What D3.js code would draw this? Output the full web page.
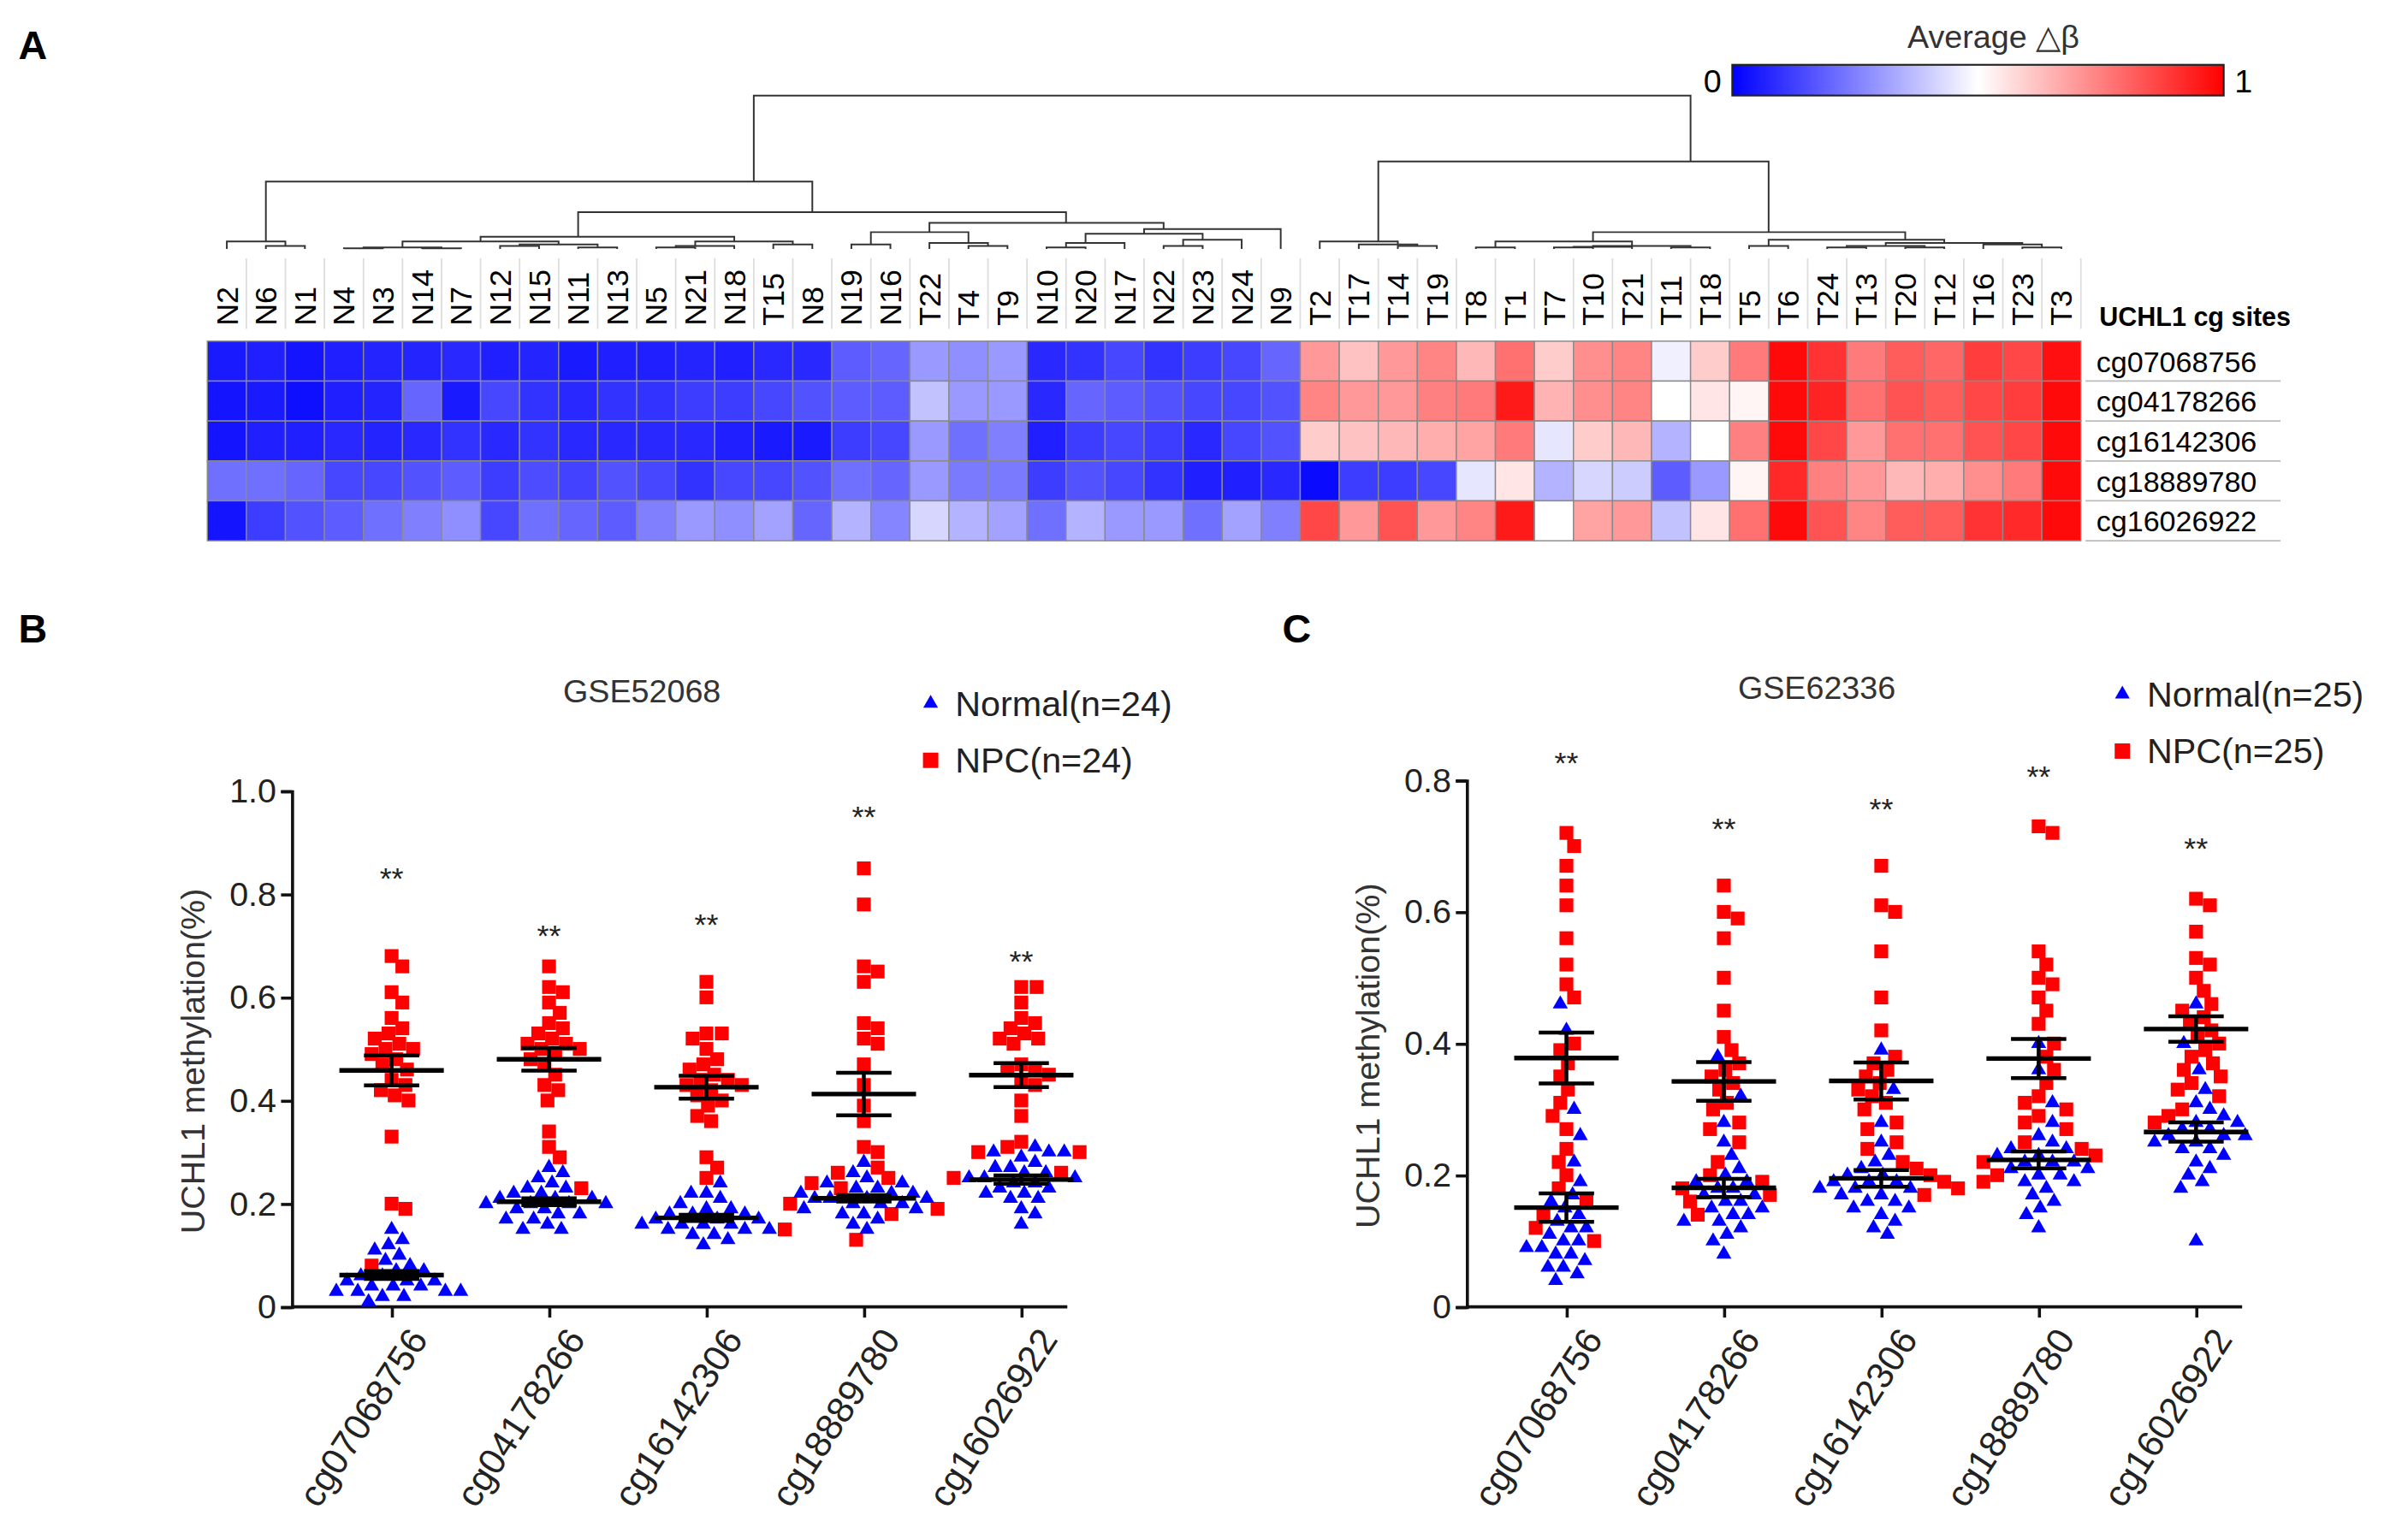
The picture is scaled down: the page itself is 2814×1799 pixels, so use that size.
<!DOCTYPE html>
<html><head><meta charset="utf-8">
<script src="https://cdn.jsdelivr.net/npm/d3@7"></script>
<style>body{margin:0;background:#fff}svg{display:block}text{font-family:"Liberation Sans",Arial,sans-serif}</style>
</head><body>
<script>
// samples in dendrogram order
const samples = ["N2","N6","N1","N4","N3","N14","N7","N12","N15","N11","N13","N5","N21","N18","T15","N8","N19","N16","T22","T4","T9","N10","N20","N17","N22","N23","N24","N9","T2","T17","T14","T19","T8","T1","T7","T10","T21","T11","T18","T5","T6","T24","T13","T20","T12","T16","T23","T3"];
const sites = ["cg07068756","cg04178266","cg16142306","cg18889780","cg16026922"];
const heat1 = [.05,.06,.04,.06,.07,.07,.08,.06,.07,.05,.06,.06,.07,.06,.08,.08,.18,.2,.3,.28,.3,.08,.1,.14,.1,.12,.14,.2,.7,.62,.7,.74,.64,.78,.6,.72,.74,.47,.6,.76,.98,.9,.76,.82,.8,.88,.86,.97];
const heat2 = [.04,.05,.03,.06,.07,.2,.05,.14,.1,.08,.1,.1,.12,.12,.14,.16,.18,.18,.38,.3,.3,.08,.2,.18,.16,.14,.14,.16,.74,.7,.7,.75,.76,.95,.65,.72,.74,.5,.55,.52,.98,.93,.78,.84,.82,.86,.88,.98];
const heat3 = [.04,.06,.06,.08,.07,.08,.1,.08,.1,.08,.08,.08,.08,.06,.05,.05,.12,.14,.3,.22,.25,.06,.12,.14,.12,.08,.14,.16,.6,.62,.64,.66,.68,.76,.45,.6,.64,.35,.5,.75,.98,.86,.7,.78,.78,.84,.86,.98];
const heat4 = [.22,.22,.2,.14,.14,.16,.18,.12,.15,.13,.16,.14,.1,.14,.14,.16,.22,.2,.3,.24,.24,.12,.16,.14,.1,.06,.06,.08,.02,.12,.12,.14,.45,.55,.35,.42,.4,.18,.3,.52,.92,.75,.7,.64,.66,.72,.76,.98];
const heat5 = [.04,.12,.16,.18,.22,.25,.28,.14,.22,.2,.18,.25,.3,.28,.32,.2,.35,.26,.42,.35,.32,.22,.35,.3,.3,.22,.32,.25,.86,.7,.84,.7,.74,.95,.5,.68,.7,.38,.55,.78,.98,.84,.74,.82,.82,.9,.92,.98];
// dendrogram: [height, left, right]
const tree = [1.0,
  [0.44,
    [0.05,"N2",[0.02,"N6","N1"]],
    [0.24,
      [0.08,
        [0.05,[0.01,[0.005,"N4","N3"],[0.005,"N14","N7"]],[0.03,[0.02,"N12","N15"],[0.01,"N11","N13"]]],
        [0.05,[0.02,[0.01,"N5","N21"],"N18"],[0.03,"T15","N8"]]],
      [0.17,
        [0.11,[0.03,"N19","N16"],[0.04,"T22",[0.02,"T4","T9"]]],
        [0.13,[0.10,[0.04,[0.01,"N10","N20"],"N17"],[0.06,[0.02,"N22","N23"],"N24"]],"N9"]]]],
  [0.57,
    [0.05,"T2",[0.03,"T17",[0.02,"T14","T19"]]],
    [0.11,
      [0.05,[0.01,"T8","T1"],[0.02,[0.015,[0.01,"T7","T10"],"T21"],[0.01,"T11","T18"]]],
      [0.06,[0.02,"T5","T6"],[0.04,[0.02,[0.01,"T24","T13"],[0.01,"T20","T12"]],[0.03,"T16",[0.01,"T23","T3"]]]]]]];

// GSE52068
const bNormal = [
 [.15,.13,.12,.11,.10,.09,.08,.07,.07,.06,.06,.05,.05,.05,.04,.04,.04,.03,.03,.03,.03,.02,.02,.01],
 [.27,.26,.25,.24,.23,.23,.22,.22,.21,.21,.21,.20,.20,.20,.20,.19,.19,.18,.18,.17,.17,.16,.15,.15],
 [.24,.22,.22,.21,.20,.19,.19,.18,.18,.18,.17,.17,.17,.16,.16,.16,.16,.15,.15,.15,.14,.14,.13,.12],
 [.28,.26,.25,.24,.24,.23,.23,.22,.22,.22,.21,.21,.21,.21,.20,.20,.20,.19,.19,.18,.18,.17,.16,.15],
 [.31,.30,.30,.30,.29,.28,.27,.27,.26,.26,.25,.25,.25,.24,.24,.23,.23,.22,.22,.21,.21,.19,.18,.16]];
const bNPC = [
 [.68,.66,.61,.59,.56,.54,.53,.52,.51,.50,.50,.49,.48,.47,.46,.44,.43,.42,.41,.40,.33,.20,.19,.08],
 [.66,.62,.61,.59,.57,.55,.54,.53,.52,.51,.51,.50,.50,.49,.48,.47,.45,.43,.40,.42,.34,.31,.29,.23],
 [.63,.60,.53,.53,.52,.50,.48,.47,.46,.45,.44,.44,.43,.43,.42,.41,.40,.39,.37,.36,.29,.27,.25,.15],
 [.85,.78,.66,.65,.63,.55,.54,.52,.51,.47,.43,.39,.36,.31,.30,.27,.24,.23,.26,.25,.20,.19,.18,.13],
 [.62,.62,.59,.56,.55,.54,.53,.52,.52,.51,.47,.46,.46,.45,.44,.43,.40,.37,.32,.30,.30,.31,.26,.25]];
// GSE62336
const cNormal = [
 [.46,.42,.30,.26,.22,.19,.17,.16,.15,.14,.13,.12,.12,.11,.10,.10,.09,.09,.08,.08,.07,.06,.06,.05,.04],
 [.38,.32,.28,.25,.23,.21,.20,.19,.19,.18,.18,.17,.17,.16,.16,.15,.15,.14,.14,.13,.13,.12,.11,.10,.08],
 [.39,.33,.28,.25,.23,.22,.21,.20,.20,.19,.19,.19,.18,.18,.18,.17,.17,.16,.16,.15,.15,.14,.13,.12,.11],
 [.40,.36,.31,.28,.26,.25,.24,.24,.23,.23,.22,.22,.22,.21,.21,.20,.20,.19,.19,.18,.17,.16,.15,.14,.12],
 [.46,.40,.36,.33,.31,.30,.29,.28,.28,.27,.27,.26,.26,.26,.25,.25,.24,.24,.23,.22,.21,.20,.19,.18,.10]];
const cNPC = [
 [.72,.70,.67,.64,.61,.56,.52,.49,.47,.40,.39,.37,.35,.33,.31,.29,.27,.24,.22,.20,.18,.16,.14,.12,.10],
 [.64,.60,.59,.56,.50,.45,.41,.39,.37,.36,.35,.34,.33,.31,.30,.28,.27,.25,.22,.20,.19,.18,.16,.14,.17],
 [.67,.61,.60,.54,.47,.42,.38,.37,.36,.35,.34,.33,.32,.31,.30,.28,.27,.25,.24,.22,.21,.20,.19,.18,.17],
 [.73,.72,.54,.52,.50,.49,.47,.45,.43,.40,.38,.36,.34,.32,.31,.30,.29,.28,.27,.25,.24,.23,.22,.20,.19],
 [.62,.61,.57,.53,.52,.50,.48,.46,.45,.44,.43,.42,.41,.40,.39,.38,.37,.36,.35,.34,.33,.32,.30,.29,.28]];
// height (in data units) of the "**" marks
const bStars = [0.81,0.70,0.72,0.93,0.65];
const cStars = [0.81,0.71,0.74,0.79,0.68];

const W = 1568, H = 1002;
const svg = d3.select("body").append("svg")
  .attr("width", 2814).attr("height", 1799).attr("viewBox", `0 0 ${W} ${H}`);

// panel letters
[["A",12,38],["B",12,418],["C",835,418]].forEach(([t,x,y]) =>
  svg.append("text").attr("x",x).attr("y",y).attr("font-size",26).attr("font-weight","bold").text(t));

// ---------- Panel A: heatmap ----------
const hx = d3.scaleBand().domain(samples).range([135,1355]);
const hy = d3.scaleBand().domain(sites).range([222,352]);
const col = d3.scaleLinear().domain([0,0.5,1]).range(["#0000ff","#ffffff","#ff0000"]);
const heat = [heat1,heat2,heat3,heat4,heat5];
const gA = svg.append("g");
sites.forEach((s,i) => {
  gA.selectAll(null).data(heat[i]).join("rect")
    .attr("x",(d,j)=>hx(samples[j])).attr("y",hy(s))
    .attr("width",hx.bandwidth()).attr("height",hy.bandwidth())
    .attr("fill",d=>col(d)).attr("stroke","#8a8a8a").attr("stroke-width",0.8);
  gA.append("text").attr("x",1365).attr("y",hy(s)+hy.bandwidth()/2+7)
    .attr("font-size",19).text(s);
  gA.append("line").attr("x1",1358).attr("x2",1485).attr("y1",hy(s)+hy.bandwidth()).attr("y2",hy(s)+hy.bandwidth())
    .attr("stroke","#bbb");
});
gA.append("text").attr("x",1367).attr("y",212).attr("font-size",17).attr("font-weight","bold").text("UCHL1 cg sites");
// leaf labels
gA.selectAll(".leaf").data(samples).join("text")
  .attr("transform",d=>`translate(${hx(d)+hx.bandwidth()/2+7},212) rotate(-90)`)
  .attr("font-size",20).text(d=>d);
gA.selectAll(".tk").data(samples).join("line")
  .attr("x1",d=>hx(d)+hx.bandwidth()).attr("x2",d=>hx(d)+hx.bandwidth())
  .attr("y1",168).attr("y2",214).attr("stroke","#ddd");

// dendrogram: node x = mean of its leaf positions
const dy = d3.scaleLinear().domain([0,1]).range([162,62]);
function drawNode(n){
  if (typeof n === "string") { const x = hx(n)+hx.bandwidth()/2; return {x, h:0, leaves:[x]}; }
  const a = drawNode(n[1]), b = drawNode(n[2]);
  const y = dy(n[0]);
  gA.append("path").attr("d",`M${a.x},${dy(a.h)}V${y}H${b.x}V${dy(b.h)}`)
    .attr("fill","none").attr("stroke","#333").attr("stroke-width",1.1);
  const leaves = a.leaves.concat(b.leaves);
  return {x:d3.mean(leaves), h:n[0], leaves};
}
drawNode(tree);

// colour bar
const grad = svg.append("defs").append("linearGradient").attr("id","cb");
[[0,"#0000ff"],[0.5,"#ffffff"],[1,"#ff0000"]].forEach(([o,c]) =>
  grad.append("stop").attr("offset",o).attr("stop-color",c));
svg.append("rect").attr("x",1128).attr("y",42).attr("width",320).attr("height",20)
  .attr("fill","url(#cb)").attr("stroke","#222").attr("stroke-width",1.2);
svg.append("text").attr("x",1298).attr("y",31).attr("text-anchor","middle").attr("font-size",21).attr("fill","#333").text("Average △β");
svg.append("text").attr("x",1121).attr("y",60).attr("text-anchor","end").attr("font-size",21).text("0");
svg.append("text").attr("x",1455).attr("y",60).attr("font-size",21).text("1");

// ---------- Panels B & C ----------
// place points symmetrically around the column centre without overlap
function dodge(pts, yPos, r){
  const placed = [];
  pts.slice().sort((p,q)=>q.v-p.v).forEach(p => {
    const py = yPos(p.v);
    for (let k = 0; k < 200; k++) {
      const dx = (k%2 ? 1 : -1) * Math.ceil(k/2);
      if (placed.every(q => (q.dx-dx)**2 + (q.py-py)**2 >= r*r)) { p.dx = dx; break; }
    }
    p.py = py; placed.push(p);
  });
}
function dotPanel(o){
  const g = svg.append("g");
  const y = d3.scaleLinear().domain([0,o.ymax]).range([851,o.ytop]);
  const x = d3.scalePoint().domain(sites).range([o.x0+65,o.x0+475]);
  g.append("g").attr("transform",`translate(${o.x0},0)`)
    .call(d3.axisLeft(y).tickValues(o.ticks).tickFormat(d=>d===0?"0":d3.format(".1f")(d)).tickSize(7))
    .call(a=>a.selectAll("text").attr("font-size",22).attr("fill","#222").attr("font-family","Liberation Sans, Arial"))
    .call(a=>a.selectAll("path,line").attr("stroke","#111").attr("stroke-width",2));
  g.append("g").attr("transform",`translate(0,851)`)
    .call(d3.axisBottom(x).tickSize(7).tickSizeOuter(0))
    .call(a=>a.select(".domain").attr("d",`M${o.x0},0H${o.x0+505}`))
    .call(a=>a.selectAll("path,line").attr("stroke","#111").attr("stroke-width",2))
    .call(a=>a.selectAll("text").attr("font-size",24).attr("fill","#222").attr("font-family","Liberation Sans, Arial")
      .attr("text-anchor","end").attr("transform","rotate(-57)").attr("dx","-0.2em").attr("dy","0.9em"));
  g.append("text").attr("transform",`translate(${o.x0-57},${(851+o.ytop)/2+8}) rotate(-90)`)
    .attr("text-anchor","middle").attr("font-size",22).attr("fill","#333").text("UCHL1 methylation(%)");
  g.append("text").attr("x",o.x0+228).attr("y",o.titleY).attr("text-anchor","middle").attr("font-size",21).attr("fill","#333").text(o.title);
  // legend
  g.append("path").attr("d",d3.symbol(d3.symbolTriangle,40)()).attr("transform",`translate(${o.legX},${o.legY})`).attr("fill","#0000ff");
  g.append("text").attr("x",o.legX+16).attr("y",o.legY+8).attr("font-size",23).attr("fill","#222").text(o.normLab);
  g.append("rect").attr("x",o.legX-5).attr("y",o.legY+32).attr("width",10).attr("height",10).attr("fill","#ff0000");
  g.append("text").attr("x",o.legX+16).attr("y",o.legY+45).attr("font-size",23).attr("fill","#222").text(o.npcLab);

  sites.forEach((s,i) => {
    const pts = o.normal[i].map(v=>({v,t:"n"})).concat(o.npc[i].map(v=>({v,t:"p"})));
    dodge(pts, y, 9.5);
    g.selectAll(null).data(pts.filter(p=>p.t==="p")).join("rect")
      .attr("x",p=>x(s)+p.dx-4.5).attr("y",p=>y(p.v)-4.5).attr("width",9).attr("height",9).attr("fill","#ff0000");
    g.selectAll(null).data(pts.filter(p=>p.t==="n")).join("path")
      .attr("d",d3.symbol(d3.symbolTriangle,42)())
      .attr("transform",p=>`translate(${x(s)+p.dx},${y(p.v)})`).attr("fill","#0000ff");
    [o.normal[i],o.npc[i]].forEach(vals => {
      const m = d3.mean(vals), se = d3.deviation(vals)/Math.sqrt(vals.length);
      g.append("line").attr("x1",x(s)-34).attr("x2",x(s)+34).attr("y1",y(m)).attr("y2",y(m)).attr("stroke","#000").attr("stroke-width",3);
      g.append("path").attr("d",`M${x(s)-18},${y(m+se)}H${x(s)+18}M${x(s)},${y(m+se)}V${y(m-se)}M${x(s)-18},${y(m-se)}H${x(s)+18}`)
        .attr("stroke","#000").attr("stroke-width",2.5).attr("fill","none");
    });
    g.append("text").attr("x",x(s)).attr("y",y(o.star[i])).attr("text-anchor","middle").attr("font-size",20).attr("fill","#222").text("**");
  });
}
dotPanel({x0:190,ymax:1.0,ytop:515,ticks:[0,0.2,0.4,0.6,0.8,1.0],normal:bNormal,npc:bNPC,title:"GSE52068",titleY:457,
  legX:606,legY:458,normLab:"Normal(n=24)",npcLab:"NPC(n=24)",star:bStars});
dotPanel({x0:955,ymax:0.8,ytop:508,ticks:[0,0.2,0.4,0.6,0.8],normal:cNormal,npc:cNPC,title:"GSE62336",titleY:455,
  legX:1382,legY:452,normLab:"Normal(n=25)",npcLab:"NPC(n=25)",star:cStars});
</script>
</body></html>
